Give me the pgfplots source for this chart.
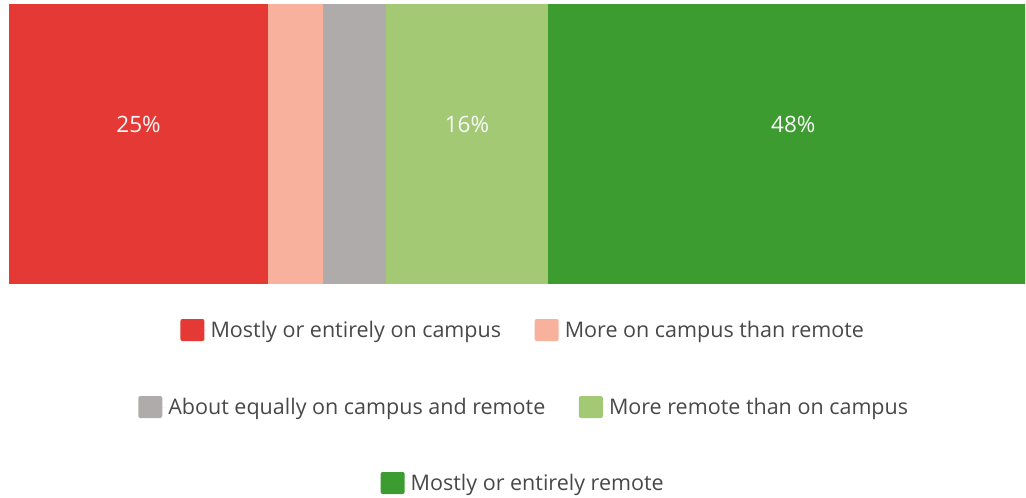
\documentclass[border=0pt]{standalone}
\usepackage{pgfplots}
\pgfplotsset{compat=1.18}
\usepackage{fontspec}
\setmainfont{Open Sans}
\definecolor{c1}{RGB}{229,57,53}
\definecolor{c2}{RGB}{248,177,157}
\definecolor{c3}{RGB}{176,171,171}
\definecolor{c4}{RGB}{163,201,117}
\definecolor{c5}{RGB}{61,156,47}
\definecolor{txt}{RGB}{72,72,72}
\pgfplotsset{
  legsq/.style={
    legend image code/.code={\fill[##1, rounded corners=2pt] (0pt,-11pt) rectangle (24pt,11pt);
      \path (0pt,0pt) -- (26.5pt,0pt);}
  },
  dummyleg/.style={
    hide axis, scale only axis, width=1pt, height=1pt,
    xmin=0, xmax=1, ymin=0, ymax=1, anchor=center, legsq,
    legend columns=2,
    legend style={at={(0.5,0.5)}, anchor=center, draw=none, fill=none,
      font=\fontsize{21.5}{25}\selectfont\color{txt},
      /tikz/every even column/.append style={column sep=30pt},
      nodes={inner sep=3.6pt}},
  }
}
\begin{document}
\begin{tikzpicture}[x=1pt,y=1pt]
\path[use as bounding box] (0,0) rectangle (1026,-498);
\begin{axis}[
  at={(9pt,-4pt)}, anchor=north west,
  scale only axis, width=1016pt, height=280pt,
  xbar stacked, bar width=280pt,
  xmin=0, xmax=98.07, ymin=-0.5, ymax=0.5,
  hide axis, clip=true,
]
\addplot[fill=c1, draw=none] coordinates {(25,0)};
\addplot[fill=c2, draw=none] coordinates {(5.3,0)};
\addplot[fill=c3, draw=none] coordinates {(6.1,0)};
\addplot[fill=c4, draw=none] coordinates {(15.6,0)};
\addplot[fill=c5, draw=none] coordinates {(48,0)};
\end{axis}
\begin{axis}[
  at={(9pt,-4pt)}, anchor=north west,
  scale only axis, width=1016pt, height=280pt,
  xmin=0, xmax=98.07, ymin=-0.5, ymax=0.5,
  hide axis, clip=false,
]
\addplot[draw=none, mark=none, nodes near coords, point meta=explicit symbolic,
  every node near coord/.style={anchor=center, text=white!95!gray, font=\fontsize{22.5}{26}\selectfont}]
  coordinates {(12.5,0.068) [25\%] (44.2,0.068) [16\%] (75.7,0.068) [48\%]};
\end{axis}
\begin{axis}[dummyleg, at={(524pt,-330pt)}]
\addlegendimage{fill=c1, draw=none}\addlegendentry{Mostly or entirely on campus}
\addlegendimage{fill=c2, draw=none}\addlegendentry{More on campus than remote}
\end{axis}
\begin{axis}[dummyleg, at={(525pt,-407pt)}]
\addlegendimage{fill=c3, draw=none}\addlegendentry{About equally on campus and remote}
\addlegendimage{fill=c4, draw=none}\addlegendentry{More remote than on campus}
\end{axis}
\begin{axis}[dummyleg, at={(524pt,-483pt)}]
\addlegendimage{fill=c5, draw=none}\addlegendentry{Mostly or entirely remote}
\end{axis}
\end{tikzpicture}
\end{document}
